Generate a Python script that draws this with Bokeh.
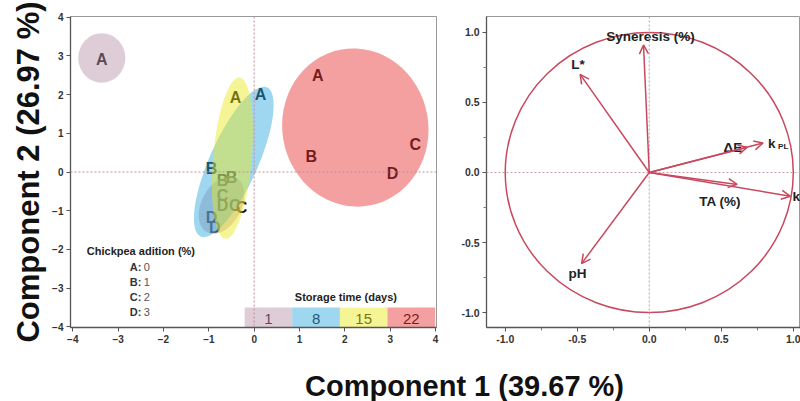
from bokeh.plotting import figure
from bokeh.layouts import column, row
from bokeh.models import Range1d, FixedTicker, Span, Arrow, OpenHead, ColumnDataSource, Title
from bokeh.core.properties import value
from bokeh.embed import file_html
from bokeh.resources import INLINE

FONTNAME = "Liberation Sans"
FONT = value(FONTNAME)

# ---------------- data: scores plot ----------------
storage_days = [1, 8, 15, 22]
day_colors = ["#b690a6", "#2ca6dd", "#e9e916", "#e92c2c"]

point_day = [1, 1, 1, 1, 8, 8, 8, 8, 15, 15, 15, 15, 22, 22, 22, 22]
point_label = ["A", "B", "C", "D"] * 4
pc1 = [-3.36, -0.70, -0.70, -0.94, 0.14, -0.94, -0.43, -0.87,
       -0.41, -0.50, -0.28, -0.70, 1.40, 1.26, 3.55, 3.05]
pc2 = [2.92, -0.23, -0.62, -1.18, 2.00, 0.10, -0.87, -1.44,
       1.92, -0.15, -0.92, -0.87, 2.49, 0.41, 0.72, -0.05]

ell_day = [1, 1, 8, 15, 22]
ell_x = [-3.36, -0.72, -0.45, -0.48, 2.23]
ell_y = [2.95, -0.85, 0.26, 0.36, 1.15]
ell_w = [1.04, 1.37, 3.60, 3.57, 3.22]
ell_h = [1.28, 1.03, 1.25, 1.00, 4.10]
ell_angle = [0, 62, 66, 85, 10]

chick_letters = ["A", "B", "C", "D"]
chick_pct = [0, 1, 2, 3]

# ---------------- data: loadings plot ----------------
var_names = ["Syneresis (%)", "L*", "\u0394E", "k", "TA (%)", "k", "pH"]
var_sub = ["", "", "", "PL", "", "", ""]
load1 = [-0.04, -0.48, 0.68, 0.79, 0.61, 0.98, -0.47]
load2 = [0.91, 0.70, 0.18, 0.21, -0.085, -0.17, -0.65]

x_ticks_left = [-4, -3, -2, -1, 0, 1, 2, 3, 4]
y_ticks_left = [-4, -3, -2, -1, 0, 1, 2, 3, 4]
ticks_right = [-1.0, -0.5, 0.0, 0.5, 1.0]

y_title = "Component 2 (26.97 %)"
x_title = "Component 1 (39.67 %)"

# ---------------- left figure ----------------
p1 = figure(width=448, height=352, x_range=Range1d(-4.05, 4.02), y_range=Range1d(-4.02, 4.02),
            output_backend="svg", toolbar_location=None,
            min_border_left=70, min_border_right=12, min_border_top=14, min_border_bottom=25)
p1.grid.visible = False
p1.outline_line_color = "#999999"
p1.background_fill_color = "white"
p1.xaxis.ticker = FixedTicker(ticks=x_ticks_left)
p1.yaxis.ticker = FixedTicker(ticks=y_ticks_left)
for ax in (p1.xaxis, p1.yaxis):
    ax.major_label_text_font = FONTNAME
    ax.major_label_text_font_size = "10px"
    ax.major_label_text_font_style = "bold"
    ax.major_label_text_color = "#333333"
    ax.major_label_standoff = 3
    ax.axis_line_color = "#555555"
    ax.axis_line_width = 1.3
    ax.major_tick_line_color = "#555555"
    ax.major_tick_out = 4
    ax.major_tick_in = 0
    ax.minor_tick_line_color = None

p1.add_layout(Title(text=y_title, align="center", offset=-9, standoff=8,
                    text_font=FONTNAME, text_font_size="31px", text_font_style="bold",
                    text_color="#111111"), "left")

p1.add_layout(Span(location=0, dimension="height", line_color="#c08a9a", line_dash="2 2", line_width=1))
p1.add_layout(Span(location=0, dimension="width", line_color="#c08a9a", line_dash="2 2", line_width=1))

# letters (drawn below the translucent ellipses)
pts = ColumnDataSource(dict(x=pc1, y=pc2, t=point_label))
p1.text(x="x", y="y", text="t", source=pts, text_color="#111111", text_font=FONT,
        text_font_style="bold", text_font_size="16px", text_align="center", text_baseline="middle")

# storage legend numbers (below their cells)
cell_w = 1.05
cell_x0 = -0.21
cell_top = -3.50
cell_bot = -4.02
cell_x = [cell_x0 + cell_w * (i + 0.5) for i in range(len(storage_days))]
cell_y = [(cell_top + cell_bot) / 2] * len(storage_days)
cells = ColumnDataSource(dict(x=cell_x, y=cell_y, t=[str(d) for d in storage_days], c=day_colors))
p1.text(x="x", y="y", text="t", source=cells, text_color="#111111", text_font=FONT,
        text_font_size="15px", text_align="center", text_baseline="middle", y_offset=2)

# ellipses
col_map = dict(zip(storage_days, day_colors))
ells = ColumnDataSource(dict(x=ell_x, y=ell_y, w=ell_w, h=ell_h, a=ell_angle,
                             c=[col_map[d] for d in ell_day]))
p1.ellipse(x="x", y="y", width="w", height="h", angle="a", angle_units="deg", source=ells,
           fill_color="c", fill_alpha=0.45, line_color=None)

p1.rect(x="x", y="y", width=cell_w, height=cell_top - cell_bot, source=cells,
        fill_color="c", fill_alpha=0.45, line_color=None)
p1.text(x=[sum(cell_x) / len(cell_x)], y=[cell_top], text=["Storage time (days)"],
        text_font=FONT, text_font_style="bold", text_font_size="11px", text_color="#222222",
        text_align="center", text_baseline="middle", x_offset=6, y_offset=-10)

# chickpea legend
leg_x, leg_y = -3.69, -2.05
p1.text(x=[leg_x], y=[leg_y], text=["Chickpea adition (%)"], text_font=FONT,
        text_font_style="bold", text_font_size="11px", text_color="#222222",
        text_align="left", text_baseline="middle")
n = len(chick_letters)
leg = ColumnDataSource(dict(x=[leg_x] * n, y=[leg_y] * n,
                            t1=[f"{c}:" for c in chick_letters], t2=[str(v) for v in chick_pct],
                            yo=[15.3 * (i + 1) for i in range(n)]))
p1.text(x="x", y="y", text="t1", source=leg, x_offset=43, y_offset="yo", text_font=FONT,
        text_font_style="bold", text_font_size="11px", text_color="#333333",
        text_align="left", text_baseline="middle")
p1.text(x="x", y="y", text="t2", source=leg, x_offset=57, y_offset="yo", text_font=FONT,
        text_font_size="11px", text_color="#555555", text_align="left", text_baseline="middle")

# ---------------- right figure ----------------
p2 = figure(width=352, height=352, x_range=Range1d(-1.13, 1.05), y_range=Range1d(-1.106, 1.113),
            output_backend="svg", toolbar_location=None,
            min_border_left=38, min_border_right=0, min_border_top=16, min_border_bottom=23)
p2.grid.visible = False
p2.outline_line_color = "#999999"
for ax in (p2.xaxis, p2.yaxis):
    ax.ticker = FixedTicker(ticks=ticks_right, minor_ticks=[-0.75, -0.25, 0.25, 0.75])
    ax.major_label_text_font = FONTNAME
    ax.major_label_text_font_size = "10.5px"
    ax.major_label_text_font_style = "bold"
    ax.major_label_text_color = "#333333"
    ax.major_label_standoff = 3
    ax.axis_line_color = "#555555"
    ax.axis_line_width = 1.3
    ax.major_tick_line_color = "#555555"
    ax.major_tick_out = 4
    ax.major_tick_in = 0
    ax.minor_tick_line_color = "#777777"
    ax.minor_tick_out = 3
    ax.minor_tick_in = 0
p2.xaxis.major_label_overrides = {t: f"{t:.1f}" for t in ticks_right}
p2.yaxis.major_label_overrides = {t: f"{t:.1f}" for t in ticks_right}

p2.add_layout(Span(location=0, dimension="height", line_color="#aaaaaa", line_dash="2 2", line_width=1))
p2.add_layout(Span(location=0, dimension="width", line_color="#c8a0aa", line_dash="2 2", line_width=1))

RED = "#c8485e"
p2.ellipse(x=[0], y=[0], width=[2], height=[2], fill_color=None, line_color=RED, line_width=1.5)

arr = ColumnDataSource(dict(x0=[0] * len(load1), y0=[0] * len(load1), x1=load1, y1=load2))
p2.add_layout(Arrow(end=OpenHead(size=9, line_color=RED, line_width=1.5), source=arr,
                    x_start="x0", y_start="y0", x_end="x1", y_end="y1",
                    line_color=RED, line_width=1.5))

# label placement (style)
align = ["center", "center", "right", "left", "center", "left", "center"]
xo = [7, -2, -5, 5, -17, 2, -4]
yo = [-8, -10, 0, 0, 17, 0, 10]
lab = ColumnDataSource(dict(x=load1, y=load2, t=var_names, s=var_sub, a=align, xo=xo, yo=yo,
                            sxo=[v + 10 for v in xo], syo=[v + 3 for v in yo]))
p2.text(x="x", y="y", text="t", source=lab, text_align="a", x_offset="xo", y_offset="yo",
        text_font=FONT, text_font_style="bold", text_font_size="13.5px", text_color="#222222",
        text_baseline="middle")
p2.text(x="x", y="y", text="s", source=lab, text_align="left", x_offset="sxo", y_offset="syo",
        text_font=FONT, text_font_style="bold", text_font_size="8px", text_color="#222222",
        text_baseline="middle")

# ---------------- shared x label ----------------
p3 = figure(width=800, height=49, x_range=Range1d(0, 800), y_range=Range1d(0, 49),
            output_backend="svg", toolbar_location=None, x_axis_location=None, y_axis_location=None,
            min_border=0)
p3.grid.visible = False
p3.outline_line_color = None
p3.text(x=[464], y=[16], text=[x_title], text_font=FONT, text_font_style="bold",
        text_font_size="29px", text_color="#111111", text_align="center", text_baseline="middle")

layout = column(row(p1, p2), p3)
open("out.html", "w").write(file_html(layout, INLINE))
